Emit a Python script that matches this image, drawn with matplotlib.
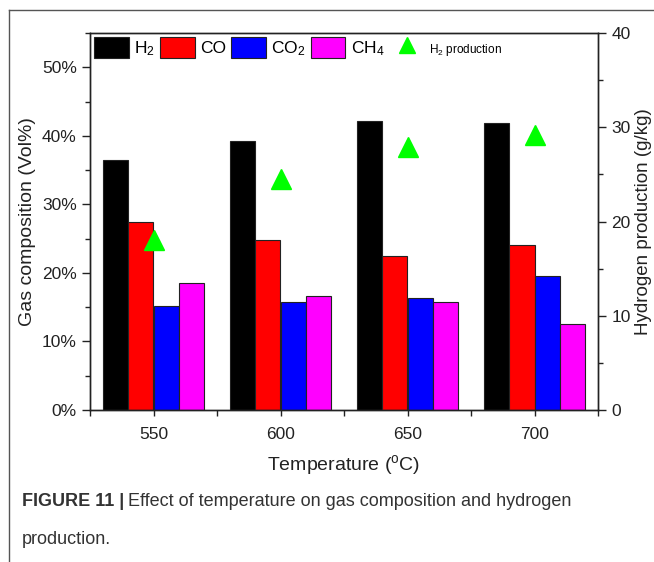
import numpy as np
import matplotlib
matplotlib.use("Agg")
import matplotlib.pyplot as plt
from matplotlib.ticker import MultipleLocator, FuncFormatter
from matplotlib.patches import Patch
from matplotlib.lines import Line2D

plt.rcParams['font.family'] = ['Liberation Sans', 'DejaVu Sans']
plt.rcParams['mathtext.fontset'] = 'custom'
plt.rcParams['mathtext.rm'] = 'Liberation Sans'
plt.rcParams['mathtext.it'] = 'Liberation Sans:italic'

# data
temperatures = [550, 600, 650, 700]
h2 = [36.4, 39.2, 42.1, 41.8]
co = [27.4, 24.8, 22.4, 24.0]
co2 = [15.1, 15.8, 16.3, 19.5]
ch4 = [18.5, 16.6, 15.7, 12.6]
h2_production = [18.0, 24.5, 27.9, 29.2]

gas_names = ['H$_2$', 'CO', 'CO$_2$', 'CH$_4$']
gas_colors = ['#000000', '#ff0000', '#0000ff', '#ff00ff']

fig = plt.figure(figsize=(6.54, 5.62), dpi=100)
ax = fig.add_axes([90 / 654, 1 - 410 / 562, 508 / 654, 377 / 562])
ax2 = ax.twinx()

x = np.array(temperatures, dtype=float)
bar_w = 10
offsets = [-15, -5, 5, 15]
for vals, off, col in zip([h2, co, co2, ch4], offsets, gas_colors):
    ax.bar(x + off, vals, width=bar_w, color=col, edgecolor='#222222', linewidth=0.8, zorder=2)

ax2.plot(x, h2_production, linestyle='none', marker='^', markersize=14,
         color='#00ff00', markeredgecolor='#00ff00', zorder=3)

ax.set_xlim(525, 725)
ax.set_ylim(0, 55)
ax2.set_ylim(0, 40)

ax.xaxis.set_major_locator(MultipleLocator(50))
ax.xaxis.set_minor_locator(MultipleLocator(25))
ax.yaxis.set_major_locator(MultipleLocator(10))
ax.yaxis.set_minor_locator(MultipleLocator(5))
ax.yaxis.set_major_formatter(FuncFormatter(lambda v, p: f"{int(round(v))}%"))
ax2.yaxis.set_major_locator(MultipleLocator(10))
ax2.yaxis.set_minor_locator(MultipleLocator(5))

for a in (ax, ax2):
    for s in a.spines.values():
        s.set_linewidth(1.0)
        s.set_color('#222222')
    a.tick_params(which='major', direction='out', length=6, width=1.0, labelsize=12.5,
                  colors='#222222')
    a.tick_params(which='minor', direction='out', length=3.5, width=1.0, colors='#222222')
ax.tick_params(axis='x', which='minor', length=4)
ax.tick_params(axis='x', which='major', length=4, pad=8)

ax.set_xlabel('Temperature ($^{\\rm o}$C)', fontsize=14, color='#222222', labelpad=8)
ax.set_ylabel('Gas composition (Vol%)', fontsize=14, color='#222222', labelpad=4)
ax2.set_ylabel('Hydrogen production (g/kg)', fontsize=13.5, color='#222222', labelpad=3)

handles = [Patch(facecolor=c, edgecolor='#222222', linewidth=0.8) for c in gas_colors]
handles.append(Line2D([], [], linestyle='none', marker='^', markersize=12,
                      color='#00ff00'))
labels = gas_names + ['H$_2$ production']
leg = ax.legend(handles, labels, ncol=5, loc='center left', bbox_to_anchor=(0.008, 0.962),
                frameon=False, fontsize=12.5, handlelength=2.0, handleheight=1.5,
                handletextpad=0.3, columnspacing=0.3, borderaxespad=0, borderpad=0)
leg.get_texts()[4].set_fontsize(8.5)

# page frame lines and caption
fig.add_artist(Line2D([9 / 654, 1.0], [1 - 10 / 562, 1 - 10 / 562], color='#555555', lw=1.0))
fig.add_artist(Line2D([9 / 654, 9 / 654], [0, 1 - 10 / 562], color='#555555', lw=1.0))

t1 = fig.text(22 / 654, 1 - 502 / 562, 'FIGURE 11 |', fontsize=13, fontweight='bold',
              color='#333333', va='center', ha='left', family='Liberation Sans')
fig.canvas.draw()
bb = t1.get_window_extent(fig.canvas.get_renderer())
fig.text(bb.x1 / fig.bbox.width + 4 / 654, 1 - 502 / 562,
         'Effect of temperature on gas composition and hydrogen',
         fontsize=13, color='#333333', va='center', ha='left')
fig.text(22 / 654, 1 - 539 / 562, 'production.', fontsize=13, color='#333333',
         va='center', ha='left')

fig.savefig('out.png', dpi=100)
